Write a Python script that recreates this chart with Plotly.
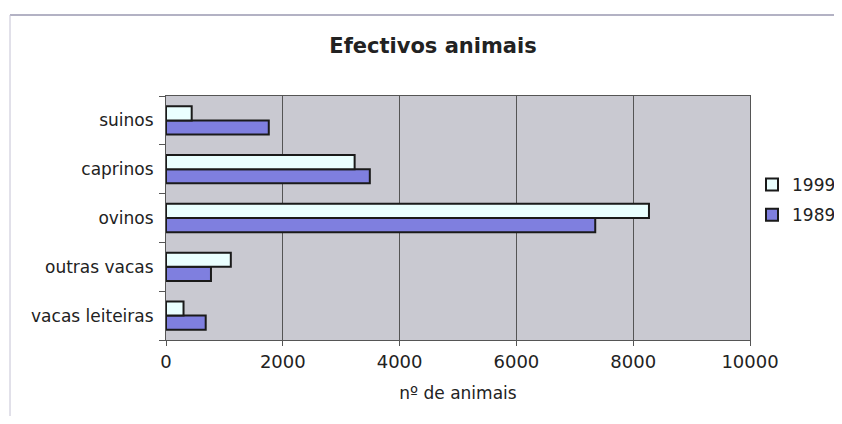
import plotly.graph_objects as go

categories = ["vacas leiteiras", "outras vacas", "ovinos", "caprinos", "suinos"]
values_1999 = [300, 1110, 8270, 3230, 440]
values_1989 = [680, 770, 7350, 3490, 1760]
x_ticks = [0, 2000, 4000, 6000, 8000, 10000]

OFF = 8  # page body margin
W, H = 842 - 2 * OFF, 424 - 2 * OFF
L, R, T, B = 166 - OFF, 750 - OFF, 96 - OFF, 340 - OFF
pw, ph = R - L, B - T

fig = go.Figure()
fig.add_trace(go.Bar(
    y=categories, x=values_1989, orientation="h", name="1989",
    legendrank=2, legendgroup="g1989",
    marker=dict(color="#7f7fdf", line=dict(color="#1a1a1a", width=2)),
))
fig.add_trace(go.Bar(
    y=categories, x=values_1999, orientation="h", name="1999",
    legendrank=1, legendgroup="g1999",
    marker=dict(color="#eaffff", line=dict(color="#1a1a1a", width=2)),
))

fig.update_layout(
    width=W, height=H,
    paper_bgcolor="white",
    plot_bgcolor="#c9c9d1",
    barmode="group",
    bargap=0.42,
    bargroupgap=0,
    font=dict(family="DejaVu Sans, Liberation Sans, Arial, sans-serif", size=17, color="#222"),
    title=dict(text="<b>Efectivos animais</b>", x=(433 - OFF) / W, xanchor="center",
               y=1 - (46 - OFF) / H, yanchor="middle", font=dict(size=21, color="#222")),
    margin=dict(l=L, r=W - R, t=T, b=H - B, autoexpand=False),
    showlegend=True,
    legend=dict(traceorder="grouped", x=(752 - OFF - L) / pw, xanchor="left",
                y=(B - (200 - OFF)) / ph, yanchor="middle",
                font=dict(size=17), bgcolor="rgba(0,0,0,0)", itemwidth=30,
                tracegroupgap=5, valign="middle"),
)
fig.update_xaxes(
    range=[0, 10000], tickvals=x_ticks, ticktext=[str(t) for t in x_ticks],
    showgrid=True, gridcolor="#555", gridwidth=1,
    showline=True, linecolor="#555", linewidth=1, mirror=True,
    ticks="outside", ticklen=5, tickcolor="#555",
    zeroline=False, automargin=False,
    title=dict(text="nº de animais", font=dict(size=17), standoff=16),
    tickfont=dict(size=18),
)
fig.update_yaxes(
    categoryorder="array", categoryarray=categories,
    showline=True, linecolor="#555", linewidth=1, mirror=True,
    ticks="outside", ticklen=6, tickcolor="#555", tickson="boundaries",
    tickfont=dict(size=17), automargin=False, ticklabelstandoff=8,
)
# chart-area border (top and left)
top_y = (B - (15 - OFF)) / ph
left_x = (10 - OFF - L) / pw
fig.add_shape(type="line", xref="paper", yref="paper",
              x0=left_x, x1=(W - L) / pw, y0=top_y, y1=top_y,
              line=dict(color="#9a98b0", width=1.5))
fig.add_shape(type="line", xref="paper", yref="paper",
              x0=left_x, x1=left_x, y0=-B / ph, y1=top_y,
              line=dict(color="#c4c2d4", width=1))

fig.write_html("out.html")
